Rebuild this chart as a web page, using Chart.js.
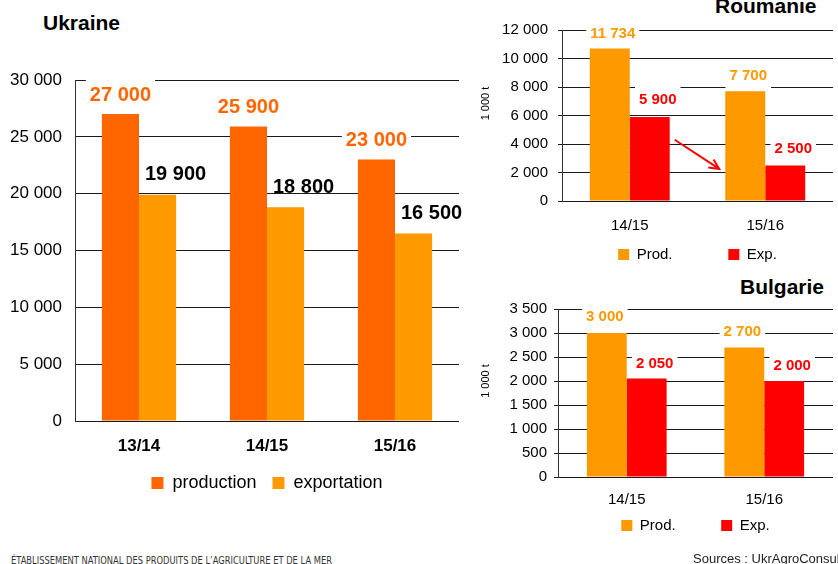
<!DOCTYPE html>
<html><head><meta charset="utf-8">
<script src="https://cdn.jsdelivr.net/npm/chart.js@4"></script>
<style>
html,body{margin:0;padding:0;background:#fff;width:838px;height:564px;overflow:hidden;position:relative;font-family:'Liberation Sans',Arial,sans-serif}
canvas{position:absolute}
.t{position:absolute;font-weight:bold;font-size:21px;line-height:21px;color:#000;white-space:nowrap}
#f1{position:absolute;left:11px;top:556px;font-family:'DejaVu Sans Condensed','DejaVu Sans',sans-serif;font-size:10px;line-height:10px;color:#333;white-space:nowrap;transform-origin:0 0}
#f2{position:absolute;left:693px;top:552px;font-size:13px;line-height:13px;color:#222;white-space:nowrap}
</style></head><body>
<div class="t" style="left:43px;top:12px">Ukraine</div>
<div class="t" style="left:715px;top:-5px">Roumanie</div>
<div class="t" style="left:740px;top:276px">Bulgarie</div>
<canvas id="cU" width="470" height="502" style="left:0;top:0"></canvas>
<canvas id="cR" width="358" height="272" style="left:480px;top:0"></canvas>
<canvas id="cB" width="358" height="273" style="left:480px;top:270px"></canvas>
<div id="f1">ÉTABLISSEMENT NATIONAL DES PRODUITS DE L’AGRICULTURE ET DE LA MER</div>
<div id="f2">Sources : UkrAgroConsult</div>
<script>
// ---- data ----
const ukrCategories = ['13/14', '14/15', '15/16'];
const ukrProduction = [27000, 25900, 23000];
const ukrExportation = [19900, 18800, 16500];
const ukrSeriesNames = ['production', 'exportation'];

const rouCategories = ['14/15', '15/16'];
const rouProd = [10700, 7700];          // bar heights as drawn
const rouProdLabels = ['11 734', '7 700']; // labels as printed
const rouExp = [5900, 2500];

const bulCategories = ['14/15', '15/16'];
const bulProd = [3000, 2700];
const bulExp = [2050, 2000];
const smallSeriesNames = ['Prod.', 'Exp.'];

const ukrTicks = {min: 0, max: 30000, step: 5000};
const rouTicks = {min: 0, max: 12000, step: 2000};
const bulTicks = {min: 0, max: 3500, step: 500};
const unitLabel = '1 000 t';

// ---- helpers ----
const FONT = "'Liberation Sans', Arial, sans-serif";
Chart.defaults.font.family = FONT;
Chart.defaults.color = '#000';
const fmt = v => String(v).replace(/\B(?=(\d{3})+(?!\d))/g, ' ');

const valueLabels = {
  id: 'valueLabels',
  afterDatasetsDraw(chart, args, opts) {
    const ctx = chart.ctx;
    chart.data.datasets.forEach((ds, di) => {
      const s = opts.sets[di];
      const meta = chart.getDatasetMeta(di);
      meta.data.forEach((bar, i) => {
        const text = s.texts ? s.texts[i] : fmt(ds.data[i]);
        ctx.save();
        ctx.font = 'bold ' + opts.size + 'px ' + FONT;
        const w = ctx.measureText(text).width;
        const cx = bar.x + s.dx, cy = bar.y - s.dy;
        if (s.bg) {
          ctx.fillStyle = '#fff';
          ctx.fillRect(cx - w / 2 - 4, cy - opts.bgUp, w + 8, opts.bgUp + opts.bgDown);
        }
        ctx.fillStyle = s.color;
        ctx.textAlign = 'center';
        ctx.textBaseline = 'middle';
        ctx.fillText(text, cx, cy + 1);
        ctx.restore();
      });
    });
  }
};

const unitTitle = {
  id: 'unitTitle',
  afterDraw(chart, args, opts) {
    if (!opts.text) return;
    const ctx = chart.ctx, a = chart.chartArea;
    ctx.save();
    ctx.translate(opts.x, (a.top + a.bottom) / 2 + opts.dy);
    ctx.rotate(-Math.PI / 2);
    ctx.font = opts.size + 'px ' + FONT;
    ctx.fillStyle = '#000';
    ctx.textAlign = 'center';
    ctx.textBaseline = 'middle';
    ctx.fillText(opts.text, 0, 0);
    ctx.restore();
  }
};

const arrowPlugin = {
  id: 'arrow',
  afterDatasetsDraw(chart, args, opts) {
    if (!opts.show) return;
    const x = chart.scales.x, y = chart.scales.y, ctx = chart.ctx;
    const x1 = x.getPixelForValue(0) + opts.dx1, y1 = y.getPixelForValue(opts.v1);
    const x2 = x.getPixelForValue(1) + opts.dx2, y2 = y.getPixelForValue(opts.v2);
    const ang = Math.atan2(y2 - y1, x2 - x1);
    ctx.save();
    ctx.strokeStyle = '#ff0000';
    ctx.lineWidth = 2;
    ctx.beginPath();
    ctx.moveTo(x1, y1); ctx.lineTo(x2, y2);
    ctx.moveTo(x2 - 11 * Math.cos(ang - 0.45), y2 - 11 * Math.sin(ang - 0.45));
    ctx.lineTo(x2, y2);
    ctx.lineTo(x2 - 11 * Math.cos(ang + 0.45), y2 - 11 * Math.sin(ang + 0.45));
    ctx.stroke();
    ctx.restore();
  }
};

function makeChart(id, o) {
  return new Chart(document.getElementById(id), {
    type: 'bar',
    data: {
      labels: o.categories,
      datasets: o.series.map(s => ({
        label: s.name, data: s.data, backgroundColor: s.color, borderWidth: 0,
        categoryPercentage: o.catPct, barPercentage: 1
      }))
    },
    options: {
      responsive: false, maintainAspectRatio: false, animation: false,
      layout: {padding: o.padding},
      scales: {
        x: {
          grid: {display: false, drawTicks: false},
          border: {display: false},
          ticks: {font: o.xFont, color: '#000', padding: o.xPad},
          afterFit: s => { s.height = o.xHeight; }
        },
        y: {
          min: o.ticks.min, max: o.ticks.max,
          ticks: {stepSize: o.ticks.step, font: {size: o.yFontSize}, color: '#000',
                  padding: o.yPad, callback: v => fmt(v)},
          grid: {color: '#1a1a1a', lineWidth: 1, drawTicks: o.tickLen > 0, tickLength: o.tickLen},
          border: {display: true, color: '#333', width: 1},
          afterFit: s => { s.width = o.yWidth; }
        }
      },
      plugins: {
        title: {display: false},
        tooltip: {enabled: false},
        legend: {
          position: 'bottom', fullSize: false,
          labels: {
            font: {size: o.legendFont}, color: '#000', boxWidth: o.box, boxHeight: o.box,
            padding: o.legendPad,
            generateLabels: chart => chart.data.datasets.map((ds, i) => ({
              text: ds.label + (i === 0 ? '\u00a0'.repeat(o.spacer) : ''),
              fillStyle: ds.backgroundColor, strokeStyle: ds.backgroundColor,
              lineWidth: 0, hidden: false, datasetIndex: i
            }))
          }
        },
        valueLabels: o.valueLabels,
        unitTitle: o.unitTitle || {},
        arrow: o.arrow || {show: false}
      }
    },
    plugins: [valueLabels, unitTitle, arrowPlugin]
  });
}

makeChart('cU', {
  categories: ukrCategories,
  series: [
    {name: ukrSeriesNames[0], data: ukrProduction, color: '#ff6600'},
    {name: ukrSeriesNames[1], data: ukrExportation, color: '#ff9900'}
  ],
  catPct: 0.58, padding: {top: 80, left: 0, right: 11, bottom: 0},
  xFont: {size: 17, weight: 'bold'}, xPad: 15, xHeight: 37,
  ticks: ukrTicks, yFontSize: 17, yPad: 13, tickLen: 0, yWidth: 75,
  legendFont: 18, box: 12, legendPad: 16, spacer: 0,
  valueLabels: {size: 20, bgUp: 16, bgDown: 10, sets: [
    {color: '#ff6600', dx: 0, dy: 20, bg: true},
    {color: '#000', dx: 18, dy: 21, bg: false}
  ]}
});

makeChart('cR', {
  categories: rouCategories,
  series: [
    {name: smallSeriesNames[0], data: rouProd, color: '#ff9900'},
    {name: smallSeriesNames[1], data: rouExp, color: '#ff0000'}
  ],
  catPct: 0.59, padding: {top: 30, left: 0, right: 5, bottom: 0},
  xFont: {size: 15}, xPad: 16, xHeight: 36,
  ticks: rouTicks, yFontSize: 15, yPad: 10, tickLen: 4, yWidth: 82,
  legendFont: 15, box: 11, legendPad: 10, spacer: 11,
  valueLabels: {size: 15, bgUp: 13, bgDown: 13, sets: [
    {color: '#ff9900', dx: 3, dy: 16, bg: true, texts: rouProdLabels},
    {color: '#ff0000', dx: 8, dy: 18, bg: true}
  ]},
  unitTitle: {text: unitLabel, x: 6, dy: -12, size: 11},
  arrow: {show: true, dx1: 45, v1: 4300, dx2: -46, v2: 2250}
});

makeChart('cB', {
  categories: bulCategories,
  series: [
    {name: smallSeriesNames[0], data: bulProd, color: '#ff9900'},
    {name: smallSeriesNames[1], data: bulExp, color: '#ff0000'}
  ],
  catPct: 0.58, padding: {top: 39, left: 0, right: 5, bottom: 0},
  xFont: {size: 15}, xPad: 14, xHeight: 33,
  ticks: bulTicks, yFontSize: 15, yPad: 7, tickLen: 4, yWidth: 78,
  legendFont: 15, box: 11, legendPad: 8, spacer: 9,
  valueLabels: {size: 15, bgUp: 13, bgDown: 13, sets: [
    {color: '#ff9900', dx: -2, dy: 17, bg: true},
    {color: '#ff0000', dx: 8, dy: 16, bg: true}
  ]},
  unitTitle: {text: unitLabel, x: 6, dy: -12, size: 11}
});

// fit footer width
const f1 = document.getElementById('f1');
const w = f1.getBoundingClientRect().width;
f1.style.transform = 'scaleX(' + (321 / w) + ')';
</script>
</body></html>
